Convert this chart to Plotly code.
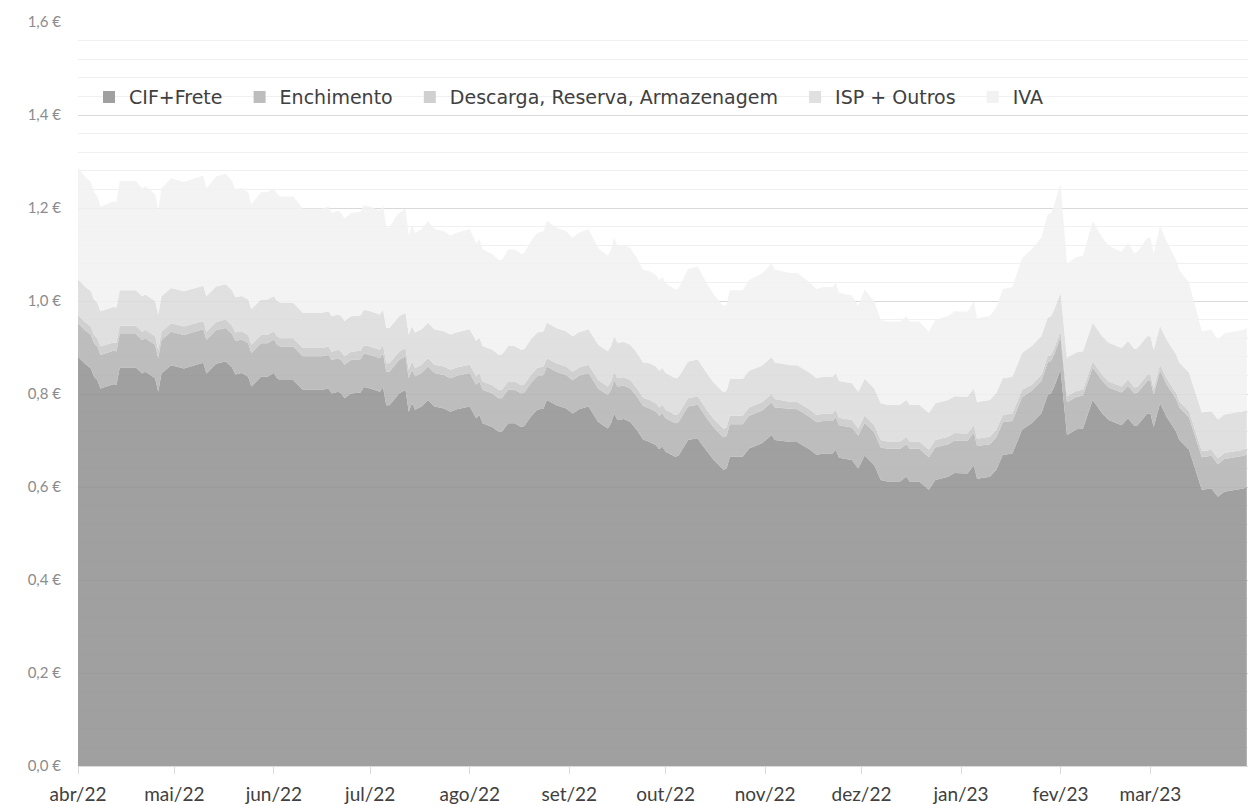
import pandas as pd
import plotly.graph_objects as go

# ---- data -------------------------------------------------------------
START = "2022-04-01"

# days since 1 Apr 2022
day = [
    0, 2, 4, 5, 6, 7, 11, 12, 13, 18,
    20, 21, 24, 25, 26, 29, 33, 39, 40, 43,
    46, 48, 49, 51, 53, 54, 57, 59, 61, 62,
    63, 67, 70, 76, 78, 79, 81, 82, 83, 85,
    88, 89, 91, 94, 95, 96, 97, 99, 100, 102,
    103, 104, 105, 107, 109, 111, 114, 116, 118, 122,
    124, 125, 126, 129, 131, 132, 134, 136, 138, 139,
    141, 143, 145, 146, 149, 152, 154, 155, 156, 159,
    160, 162, 165, 166, 167, 168, 170, 172, 174, 176,
    178, 180, 181, 182, 183, 186, 187, 190, 193, 194,
    196, 198, 201, 202, 203, 207, 209, 213, 216, 217,
    222, 224, 228, 230, 232, 235, 236, 237, 241, 243,
    245, 248, 250, 252, 256, 258, 259, 262, 265, 267,
    271, 273, 277, 279, 280, 284, 286, 288, 291, 294,
    297, 300, 302, 303, 304, 306, 308, 311, 313, 316,
    319, 321, 325, 327, 329, 330, 333, 334, 335, 337,
    339, 342, 343, 346, 348, 350, 353, 355, 357, 363,
    364,
]

cif_frete = [
    .880, .866, .855, .837, .830, .812, .821, .820, .857, .857,
    .844, .848, .834, .805, .844, .862, .855, .867, .844, .865,
    .870, .857, .842, .845, .837, .816, .837, .837, .845, .834,
    .830, .830, .809, .809, .812, .801, .805, .801, .791, .801,
    .803, .815, .812, .805, .815, .776, .776, .794, .801, .809,
    .762, .780, .766, .773, .787, .773, .769, .762, .767, .773,
    .748, .755, .737, .729, .719, .719, .737, .737, .729, .731,
    .751, .766, .769, .787, .776, .769, .758, .762, .767, .773,
    .762, .740, .726, .737, .758, .744, .746, .740, .723, .702,
    .697, .690, .681, .687, .676, .665, .667, .701, .705, .694,
    .676, .658, .637, .640, .665, .665, .683, .694, .712, .701,
    .697, .697, .680, .669, .672, .672, .680, .663, .658, .640,
    .668, .647, .615, .612, .612, .622, .612, .612, .594, .615,
    .622, .630, .629, .647, .618, .622, .637, .669, .672, .723,
    .737, .758, .798, .801, .815, .852, .712, .724, .726, .787,
    .758, .744, .733, .748, .731, .733, .758, .758, .729, .780,
    .751, .719, .701, .680, .637, .594, .597, .579, .590, .597,
    .600,
]

enchimento = [
    .072, .072, .072, .072, .072, .072, .072, .072, .072, .072,
    .072, .072, .072, .072, .072, .072, .072, .072, .072, .072,
    .072, .072, .072, .072, .072, .072, .072, .072, .072, .072,
    .072, .072, .072, .072, .072, .072, .072, .072, .072, .072,
    .072, .072, .072, .072, .072, .072, .072, .072, .072, .072,
    .072, .072, .072, .072, .072, .072, .072, .072, .072, .072,
    .072, .072, .072, .072, .072, .072, .072, .072, .072, .072,
    .072, .072, .072, .072, .072, .072, .072, .072, .072, .072,
    .072, .072, .072, .072, .072, .072, .072, .072, .072, .072,
    .072, .072, .072, .072, .072, .072, .072, .072, .072, .072,
    .070, .070, .070, .070, .070, .070, .070, .070, .070, .070,
    .070, .070, .070, .070, .070, .070, .070, .070, .070, .070,
    .070, .070, .070, .070, .070, .070, .070, .070, .070, .070,
    .070, .070, .070, .070, .070, .070, .070, .070, .070, .070,
    .070, .070, .070, .070, .070, .070, .070, .070, .070, .070,
    .070, .070, .070, .070, .070, .070, .070, .070, .070, .070,
    .070, .070, .070, .070, .070, .070, .070, .070, .070, .070,
    .070,
]

descarga = [
    .018, .018, .018, .018, .018, .018, .018, .018, .018, .018,
    .018, .018, .018, .018, .018, .018, .018, .018, .018, .018,
    .018, .018, .018, .018, .018, .018, .018, .018, .018, .018,
    .018, .018, .018, .018, .018, .018, .018, .018, .018, .018,
    .018, .018, .018, .018, .018, .018, .018, .018, .018, .018,
    .018, .018, .018, .018, .018, .018, .018, .018, .018, .018,
    .018, .018, .018, .018, .018, .018, .018, .018, .018, .018,
    .018, .018, .018, .018, .018, .018, .018, .018, .018, .018,
    .018, .018, .018, .018, .018, .018, .018, .018, .018, .018,
    .018, .018, .018, .018, .018, .018, .018, .018, .018, .018,
    .018, .018, .018, .018, .018, .018, .018, .018, .018, .018,
    .016, .016, .016, .016, .016, .016, .016, .016, .016, .016,
    .016, .016, .016, .016, .016, .016, .016, .016, .016, .016,
    .016, .016, .016, .016, .016, .016, .016, .016, .016, .016,
    .013, .013, .013, .013, .013, .013, .013, .013, .013, .013,
    .013, .013, .013, .013, .013, .013, .013, .013, .013, .013,
    .013, .013, .013, .013, .013, .013, .013, .013, .013, .013,
    .013,
]

isp_outros = [
    .076, .076, .076, .076, .076, .076, .076, .076, .076, .076,
    .076, .076, .076, .076, .076, .076, .076, .076, .076, .076,
    .076, .076, .076, .076, .076, .076, .076, .076, .076, .076,
    .076, .076, .076, .076, .076, .076, .076, .076, .076, .076,
    .076, .076, .076, .076, .076, .076, .076, .076, .076, .076,
    .076, .076, .076, .076, .076, .076, .076, .076, .076, .076,
    .076, .076, .076, .076, .076, .076, .076, .076, .076, .076,
    .076, .076, .076, .076, .076, .076, .076, .076, .076, .076,
    .076, .076, .076, .076, .076, .076, .076, .076, .076, .076,
    .079, .079, .079, .079, .079, .079, .079, .079, .079, .079,
    .079, .079, .079, .079, .079, .079, .079, .079, .079, .079,
    .079, .079, .079, .079, .079, .079, .079, .079, .079, .079,
    .079, .079, .079, .079, .079, .079, .079, .079, .079, .079,
    .079, .079, .079, .079, .079, .079, .079, .079, .079, .079,
    .083, .083, .083, .083, .083, .083, .083, .083, .083, .083,
    .083, .083, .083, .083, .083, .083, .083, .083, .083, .083,
    .083, .083, .083, .083, .083, .083, .083, .083, .083, .083,
    .083,
]

iva = [
    .240, .237, .235, .231, .229, .225, .227, .227, .235, .235,
    .232, .233, .230, .223, .232, .236, .235, .237, .232, .237,
    .238, .235, .232, .232, .231, .226, .231, .231, .232, .230,
    .229, .229, .224, .224, .225, .222, .223, .222, .220, .222,
    .223, .225, .225, .223, .225, .216, .216, .221, .222, .224,
    .213, .217, .214, .216, .219, .216, .215, .213, .214, .216,
    .210, .212, .208, .206, .203, .203, .208, .208, .206, .206,
    .211, .214, .215, .219, .216, .215, .212, .213, .214, .216,
    .213, .208, .205, .208, .212, .209, .209, .208, .204, .199,
    .198, .197, .195, .196, .193, .191, .191, .199, .200, .198,
    .193, .189, .185, .185, .191, .191, .195, .198, .202, .199,
    .198, .198, .194, .192, .193, .193, .194, .190, .189, .185,
    .192, .187, .179, .179, .179, .181, .179, .179, .175, .179,
    .181, .183, .183, .187, .180, .181, .185, .192, .193, .204,
    .208, .212, .222, .222, .225, .234, .202, .205, .205, .219,
    .212, .209, .207, .210, .206, .207, .212, .212, .206, .217,
    .211, .203, .199, .194, .185, .175, .175, .171, .174, .175,
    .176,
]

month_labels = ["abr/22", "mai/22", "jun/22", "jul/22", "ago/22", "set/22",
                "out/22", "nov/22", "dez/22", "jan/23", "fev/23", "mar/23", ""]

# name, values, fill colour (semi-transparent so gridlines show through), legend swatch
SERIES = [
    ("CIF+Frete", cif_frete, "rgba(143,143,143,0.85)", "#a0a0a0"),
    ("Enchimento", enchimento, "rgba(177,177,177,0.85)", "#bdbdbd"),
    ("Descarga, Reserva, Armazenagem", descarga, "rgba(200,200,200,0.85)", "#d0d0d0"),
    ("ISP + Outros", isp_outros, "rgba(219,219,219,0.85)", "#e0e0e0"),
    ("IVA", iva, "rgba(241,241,241,0.85)", "#f2f2f2"),
]

FONT = "Lato, 'Open Sans', sans-serif"
LEGEND_FONT = "'DejaVu Sans', 'Open Sans', sans-serif"

dates = pd.Timestamp(START) + pd.to_timedelta(day, unit="D")
month_ticks = pd.date_range(START, "2023-04-01", freq="MS")

fig = go.Figure()
for name, vals, fill, _ in SERIES:
    fig.add_trace(go.Scatter(
        x=dates, y=vals, name=name,
        mode="lines", stackgroup="one",
        line=dict(width=0), fillcolor=fill,
        showlegend=False, hoverinfo="skip",
    ))

# square legend swatches (trailing nbsp widens the gaps like the original)
for name, _, _, swatch in SERIES:
    fig.add_trace(go.Scatter(
        x=[None], y=[None], name=name + "\u00a0\u00a0", mode="markers",
        marker=dict(symbol="square", size=11, color=swatch),
    ))

# page body adds 8px around the figure, so the figure is sized to fit inside
fig.update_layout(
    width=1244, height=798,
    paper_bgcolor="white", plot_bgcolor="white",
    font=dict(family=FONT, size=18, color="#404040"),
    margin=dict(l=70, r=2, t=14, b=40),
    separators=",.",
    legend=dict(
        orientation="h", x=0.0094, y=0.899, xanchor="left", yanchor="middle",
        traceorder="normal",
        bgcolor="rgba(0,0,0,0)",
        font=dict(family=LEGEND_FONT, size=19, color="#404040"),
        itemsizing="constant",
    ),
)

fig.update_xaxes(
    type="date", range=[START, "2023-04-01"],
    tickvals=month_ticks, ticktext=month_labels,
    showgrid=False, zeroline=False, automargin=False,
    showline=True, linecolor="#d9d9d9", linewidth=1,
    ticks="outside", ticklen=7, tickcolor="#d9d9d9",
    ticklabelstandoff=4,
    tickfont=dict(size=19, color="#404040"),
)
fig.update_yaxes(
    range=[0, 1.6], dtick=0.2, tick0=0,
    tickformat=".1f", ticksuffix=" €",
    showgrid=True, gridcolor="#d9d9d9", gridwidth=1,
    minor=dict(dtick=0.04, tick0=0, showgrid=True, gridcolor="#f0f0f0", gridwidth=1),
    zeroline=False, showline=False, ticks="", automargin=False,
    ticklabelstandoff=16,
    tickfont=dict(size=15, color="#8c8c8c"),
)

fig.write_html("out.html")
